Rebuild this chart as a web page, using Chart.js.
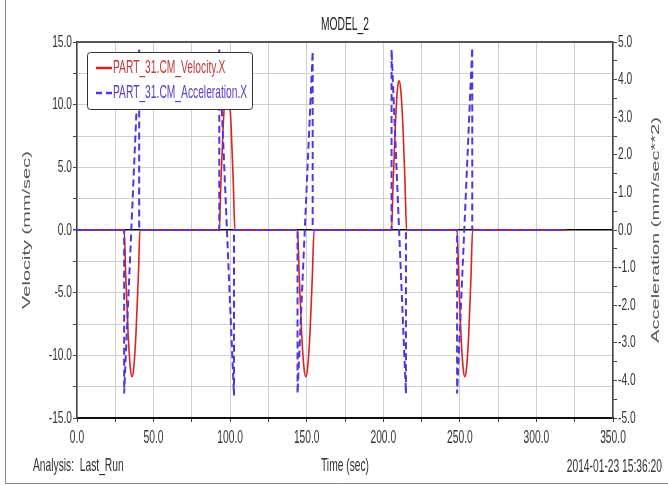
<!DOCTYPE html>
<html>
<head>
<meta charset="utf-8">
<title>MODEL_2</title>
<script src="https://cdn.jsdelivr.net/npm/chart.js@4.4.1/dist/chart.umd.min.js"></script>
<style>
  html, body { margin: 0; padding: 0; background: #fff; }
  #wrap { position: relative; width: 668px; height: 485px; }
</style>
</head>
<body>
<div id="wrap"><canvas id="chartModel"></canvas></div>
<script>
// values
var timeVel = [0,
  30.8, 31.8, 33.4, 34.9, 36.0, 37.0, 38.5, 40.1, 41.1,
  92.9, 93.9, 95.5, 97.0, 98.0, 99.0, 100.6, 102.1, 103.1,
  144.0, 145.1, 146.7, 148.3, 149.4, 150.5, 152.1, 153.7, 154.8,
  205.4, 206.4, 207.9, 209.3, 210.3, 211.3, 212.8, 214.2, 215.2,
  248.2, 249.2, 250.7, 252.2, 253.3, 254.3, 255.8, 257.3, 258.3,
  320.0];
var velocity = [0,
  0, -3.6, -8.3, -11.1, -11.7, -11.1, -8.3, -3.6, 0,
  0, 3.6, 8.4, 11.2, 11.8, 11.2, 8.4, 3.6, 0,
  0, -3.6, -8.3, -11.1, -11.7, -11.1, -8.3, -3.6, 0,
  0, 3.7, 8.4, 11.3, 11.9, 11.3, 8.4, 3.7, 0,
  0, -3.6, -8.3, -11.1, -11.7, -11.1, -8.3, -3.6, 0,
  0];
var timeAcc = [0,
  30.8, 30.8, 40.6, 40.6,
  92.9, 92.9, 102.5, 102.5,
  144.0, 144.0, 153.9, 153.9,
  205.4, 205.4, 214.8, 214.8,
  248.2, 248.2, 258.1, 258.1,
  320.0];
var acceleration = [0,
  0, -4.35, 4.8, 0,
  0, 4.8, -4.4, 0,
  0, -4.35, 4.75, 0,
  0, 4.8, -4.35, 0,
  0, -4.35, 4.85, 0,
  0];

var xTickLabels = [0, 50, 100, 150, 200, 250, 300, 350];
var velTickLabels = [-15, -10, -5, 0, 5, 10, 15];
var accTickLabels = [-5, -4, -3, -2, -1, 0, 1, 2, 3, 4, 5];

var velLabel = 'PART_31.CM_Velocity.X';
var accLabel = 'PART_31.CM_Acceleration.X';

(function() {
  var RED = '#dd2222', BLUE = '#5533dd';
  var SQ = 0.54;
  var FONT = '"Liberation Sans", Arial, sans-serif';

  function pts(xs, ys) {
    return xs.map(function(x, i) { return { x: x, y: ys[i] }; });
  }

  function txt(ctx, s, x, y, o) {
    ctx.save();
    ctx.translate(x, y);
    ctx.scale(o.sx || SQ, 1);
    if (o.rot) ctx.rotate(o.rot);
    ctx.font = (o.size || 19) + 'px ' + FONT;
    ctx.fillStyle = o.color || '#333';
    ctx.textAlign = o.align || 'left';
    ctx.textBaseline = 'middle';
    ctx.fillText(s, 0, 0);
    ctx.restore();
  }

  var decor = {
    id: 'decor',
    beforeDraw: function(chart) {
      var ctx = chart.ctx;
      ctx.save();
      ctx.fillStyle = '#fff';
      ctx.fillRect(0, 0, chart.width, chart.height);
      ctx.restore();
    },
    afterDraw: function(chart) {
      var ctx = chart.ctx, a = chart.chartArea;
      var sx = chart.scales.x, sy = chart.scales.y, sy1 = chart.scales.y1;

      // frame of the plot
      ctx.save();
      ctx.strokeStyle = '#555';
      ctx.lineWidth = 2;
      ctx.beginPath();
      ctx.moveTo(a.left, a.top);
      ctx.lineTo(a.right, a.top);
      ctx.stroke();
      // outer window edges
      ctx.strokeStyle = '#8a8a8a';
      ctx.lineWidth = 1;
      ctx.beginPath();
      ctx.moveTo(5.5, 0); ctx.lineTo(5.5, 484);
      ctx.moveTo(5, 483.5); ctx.lineTo(668, 483.5);
      ctx.stroke();
      ctx.restore();

      xTickLabels.forEach(function(v) {
        txt(ctx, v.toFixed(1), sx.getPixelForValue(v), 438, { align: 'center', size: 19 });
      });
      velTickLabels.forEach(function(v) {
        txt(ctx, v.toFixed(1), a.left - 5, sy.getPixelForValue(v), { align: 'right', size: 17, sx: 0.6 });
      });
      accTickLabels.forEach(function(v) {
        txt(ctx, v.toFixed(1), a.right + 5, sy1.getPixelForValue(v), { align: 'left', size: 17, sx: 0.6 });
      });

      var midY = (a.top + a.bottom) / 2;
      txt(ctx, 'Velocity (mm/sec)', 27, midY, { align: 'center', size: 20, rot: -Math.PI / 2, color: '#555' });
      txt(ctx, 'Acceleration (mm/sec**2)', 656, midY, { align: 'center', size: 20, rot: -Math.PI / 2, color: '#555' });

      txt(ctx, 'MODEL_2', (a.left + a.right) / 2, 25, { align: 'center', size: 19, color: '#222' });
      txt(ctx, 'Time (sec)', (a.left + a.right) / 2, 466, { align: 'center', size: 19 });
      txt(ctx, 'Analysis:  Last_Run', 33, 466, { align: 'left', size: 19 });
      txt(ctx, '2014-01-23 15:36:20', 662, 467, { align: 'right', size: 19 });

      // legend box
      ctx.save();
      ctx.fillStyle = '#fff';
      ctx.strokeStyle = '#333';
      ctx.lineWidth = 1;
      ctx.beginPath();
      if (ctx.roundRect) ctx.roundRect(87.5, 52.5, 165, 57, 3);
      else ctx.rect(87.5, 52.5, 165, 57);
      ctx.fill();
      ctx.stroke();
      ctx.lineWidth = 2.5;
      ctx.strokeStyle = RED;
      ctx.beginPath();
      ctx.moveTo(96, 68); ctx.lineTo(112, 68);
      ctx.stroke();
      ctx.strokeStyle = BLUE;
      ctx.setLineDash([6, 4]);
      ctx.beginPath();
      ctx.moveTo(96, 93); ctx.lineTo(113, 93);
      ctx.stroke();
      ctx.restore();
      txt(ctx, velLabel, 113, 68, { size: 19, color: '#c23a3a' });
      txt(ctx, accLabel, 113, 93, { size: 19, color: '#5a3cc8' });
    }
  };

  var gridGray = '#cfcfcf';

  new Chart(document.getElementById('chartModel'), {
    type: 'line',
    data: {
      datasets: [{
        label: velLabel,
        data: pts(timeVel, velocity),
        yAxisID: 'y',
        borderColor: RED,
        borderWidth: 1.6,
        pointRadius: 0,
        cubicInterpolationMode: 'monotone',
        order: 1
      }, {
        label: accLabel,
        data: pts(timeAcc, acceleration),
        yAxisID: 'y1',
        borderColor: BLUE,
        borderWidth: 2,
        borderDash: [7, 4],
        pointRadius: 0,
        tension: 0,
        order: 0
      }]
    },
    options: {
      responsive: true,
      maintainAspectRatio: false,
      devicePixelRatio: 1,
      animation: false,
      events: [],
      layout: { padding: { top: 42, left: 0, right: 0, bottom: 0 } },
      plugins: { legend: { display: false }, tooltip: { enabled: false } },
      scales: {
        x: {
          type: 'linear', min: 0, max: 350,
          ticks: { display: false, stepSize: 25 },
          grid: { color: gridGray, tickColor: '#444', tickLength: 4 },
          border: { display: true, color: '#111', width: 2 },
          afterFit: function(s) { s.height = 67; }
        },
        y: {
          type: 'linear', position: 'left', min: -15, max: 15,
          ticks: { display: false, stepSize: 2.5 },
          grid: {
            color: function(c) { return c.tick && c.tick.value === 0 ? '#000' : gridGray; },
            lineWidth: function(c) { return c.tick && c.tick.value === 0 ? 1.5 : 1; },
            tickColor: '#444', tickLength: 4
          },
          border: { display: true, color: '#444', width: 1.5 },
          afterFit: function(s) { s.width = 77; }
        },
        y1: {
          type: 'linear', position: 'right', min: -5, max: 5,
          ticks: { display: false, stepSize: 0.5 },
          grid: { drawOnChartArea: false, tickColor: '#444', tickLength: 4 },
          border: { display: true, color: '#444', width: 1.5 },
          afterFit: function(s) { s.width = 55; }
        }
      }
    },
    plugins: [decor]
  });
})();
</script>
</body>
</html>
